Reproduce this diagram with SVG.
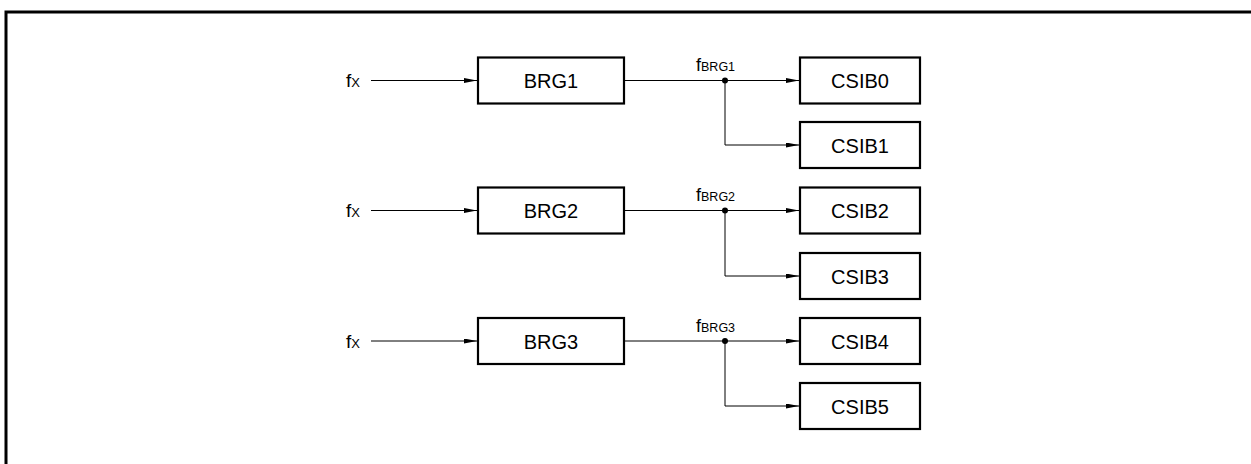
<svg xmlns="http://www.w3.org/2000/svg" width="1251" height="464" viewBox="0 0 1251 464">
<style>
.box{fill:#fff;stroke:#000;stroke-width:2.2}
.lbl{font-family:"Liberation Sans",Arial,sans-serif;font-size:20px;fill:#000;text-anchor:middle}
.sig{font-family:"Liberation Sans",Arial,sans-serif;fill:#000}
.w{fill:none;stroke:#000;stroke-width:1}
.dot{fill:#000}
</style>
<defs>
<marker id="ah" viewBox="0 0 13 5" refX="13" refY="2.5" markerWidth="13" markerHeight="5" markerUnits="userSpaceOnUse" orient="auto">
<path d="M0,0 L13,2.5 L0,5 Z" fill="#000"/>
</marker>
</defs>
<rect x="6" y="12" width="1260" height="470" fill="none" stroke="#000" stroke-width="3"/>

<g id="connectors">
<line class="w" x1="371" y1="80.5" x2="477" y2="80.5" marker-end="url(#ah)"/>
<line class="w" x1="624" y1="80.5" x2="799" y2="80.5" marker-end="url(#ah)"/>
<polyline class="w" points="725,80.5 725,145 799,145" marker-end="url(#ah)"/>
<circle class="dot" cx="725" cy="80.5" r="3"/>

<line class="w" x1="371" y1="210.5" x2="477" y2="210.5" marker-end="url(#ah)"/>
<line class="w" x1="624" y1="210.5" x2="799" y2="210.5" marker-end="url(#ah)"/>
<polyline class="w" points="725,210.5 725,276 799,276" marker-end="url(#ah)"/>
<circle class="dot" cx="725" cy="210.5" r="3"/>

<line class="w" x1="371" y1="341" x2="477" y2="341" marker-end="url(#ah)"/>
<line class="w" x1="624" y1="341" x2="799" y2="341" marker-end="url(#ah)"/>
<polyline class="w" points="725,341 725,406 799,406" marker-end="url(#ah)"/>
<circle class="dot" cx="725" cy="341" r="3"/>
</g>

<g id="sig-fx1"><text class="sig" x="346" y="87" font-size="19">f<tspan font-size="13">X</tspan></text></g>
<g id="sig-fx2"><text class="sig" x="346" y="217" font-size="19">f<tspan font-size="13">X</tspan></text></g>
<g id="sig-fx3"><text class="sig" x="346" y="347.5" font-size="19">f<tspan font-size="13">X</tspan></text></g>

<g id="sig-fbrg1"><text class="sig" x="696" y="71" font-size="18">f<tspan font-size="12.5">BRG1</tspan></text></g>
<g id="sig-fbrg2"><text class="sig" x="696" y="201" font-size="18">f<tspan font-size="12.5">BRG2</tspan></text></g>
<g id="sig-fbrg3"><text class="sig" x="696" y="331.5" font-size="18">f<tspan font-size="12.5">BRG3</tspan></text></g>

<g id="BRG1"><rect class="box" x="478" y="57.5" width="146" height="46"/><text class="lbl" x="551" y="88">BRG1</text></g>
<g id="BRG2"><rect class="box" x="478" y="187.5" width="146" height="46"/><text class="lbl" x="551" y="218">BRG2</text></g>
<g id="BRG3"><rect class="box" x="478" y="318" width="146" height="46"/><text class="lbl" x="551" y="348.5">BRG3</text></g>

<g id="CSIB0"><rect class="box" x="800" y="57.5" width="120" height="46"/><text class="lbl" x="860" y="88">CSIB0</text></g>
<g id="CSIB1"><rect class="box" x="800" y="122" width="120" height="46"/><text class="lbl" x="860" y="152.5">CSIB1</text></g>
<g id="CSIB2"><rect class="box" x="800" y="187.5" width="120" height="46"/><text class="lbl" x="860" y="218">CSIB2</text></g>
<g id="CSIB3"><rect class="box" x="800" y="253" width="120" height="46"/><text class="lbl" x="860" y="283.5">CSIB3</text></g>
<g id="CSIB4"><rect class="box" x="800" y="318" width="120" height="46"/><text class="lbl" x="860" y="348.5">CSIB4</text></g>
<g id="CSIB5"><rect class="box" x="800" y="383" width="120" height="46"/><text class="lbl" x="860" y="413.5">CSIB5</text></g>
</svg>
